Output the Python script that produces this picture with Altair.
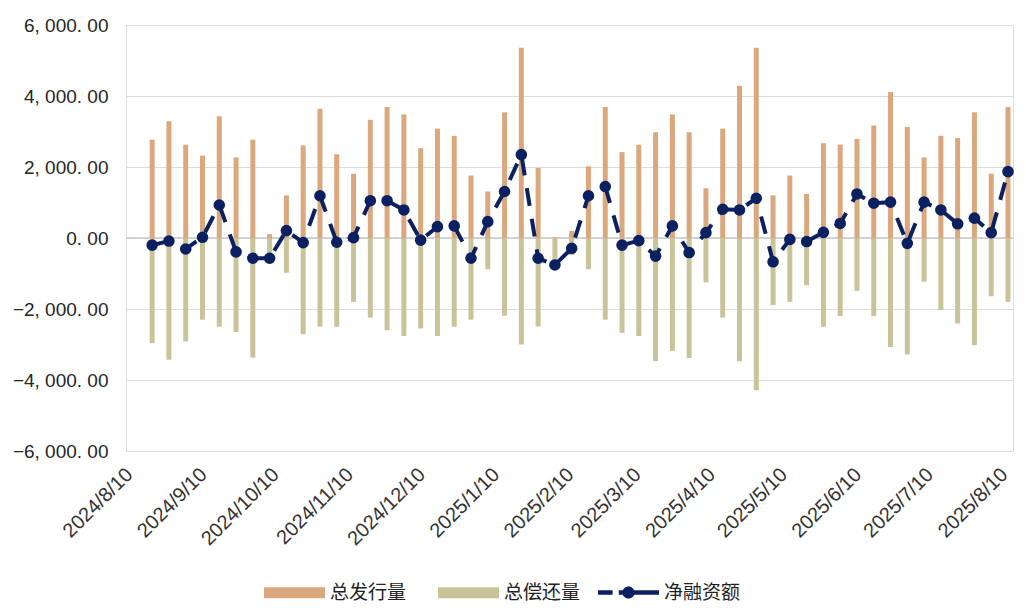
import altair as alt
import pandas as pd

dates = [
    "2024-08-18", "2024-08-25", "2024-09-01", "2024-09-08", "2024-09-15", "2024-09-22",
    "2024-09-29", "2024-10-06", "2024-10-13", "2024-10-20", "2024-10-27", "2024-11-03",
    "2024-11-10", "2024-11-17", "2024-11-24", "2024-12-01", "2024-12-08", "2024-12-15",
    "2024-12-22", "2024-12-29", "2025-01-05", "2025-01-12", "2025-01-19", "2025-01-26",
    "2025-02-02", "2025-02-09", "2025-02-16", "2025-02-23", "2025-03-02", "2025-03-09",
    "2025-03-16", "2025-03-23", "2025-03-30", "2025-04-06", "2025-04-13", "2025-04-20",
    "2025-04-27", "2025-05-04", "2025-05-11", "2025-05-18", "2025-05-25", "2025-06-01",
    "2025-06-08", "2025-06-15", "2025-06-22", "2025-06-29", "2025-07-06", "2025-07-13",
    "2025-07-20", "2025-07-27", "2025-08-03", "2025-08-10",
]

issuance = [2770, 3290, 2630, 2320, 3430, 2270, 2770, 110, 1200, 2610,
            3640, 2360, 1810, 3330, 3690, 3480, 2530, 3080, 2880, 1760,
            1310, 3540, 5360, 1970, 20, 200, 2020, 3690, 2420, 2630,
            2980, 3480, 2980, 1400, 3080, 4290, 5360, 1200, 1760, 1240,
            2670, 2630, 2790, 3170, 4110, 3130, 2270, 2880, 2820, 3540,
            1810, 3690]

repayment = [-2960, -3430, -2910, -2300, -2500, -2650, -3370, -680, -980, -2710,
             -2500, -2500, -1800, -2240, -2600, -2760, -2550, -2760, -2500, -2300,
             -880, -2190, -3000, -2490, -780, -480, -880, -2300, -2670, -2760,
             -3470, -3180, -3380, -1250, -2240, -3470, -4290, -1890, -1800, -1330,
             -2500, -2200, -1490, -2200, -3070, -3280, -1230, -2030, -2410, -3020,
             -1640, -1800]

net = [-200, -85, -310, 20, 930, -390, -570, -570, 210, -130,
       1190, -120, 10, 1050, 1050, 790, -60, 320, 340, -570,
       460, 1310, 2350, -570, -760, -290, 1190, 1450, -200, -75,
       -510, 340, -410, 150, 810, 790, 1120, -670, -40, -100,
       160, 410, 1240, 980, 1010, -150, 1010, 790, 400, 560,
       150, 1870]

bar_names = ["总发行量", "总偿还量"]
bar_colors = ["#DBA77D", "#C9C39A"]
line_name = "净融资额"
line_color = "#0B2060"

y_ticks = [-6000, -4000, -2000, 0, 2000, 4000, 6000]
tick_months = [(2024, 8), (2024, 9), (2024, 10), (2024, 11), (2024, 12), (2025, 1), (2025, 2),
               (2025, 3), (2025, 4), (2025, 5), (2025, 6), (2025, 7), (2025, 8)]

bars = pd.DataFrame({
    "date": dates * 2,
    "value": issuance + repayment,
    "series": [bar_names[0]] * len(dates) + [bar_names[1]] * len(dates),
})
lines = pd.DataFrame({"date": dates, "value": net, "series": [line_name] * len(dates)})
zero = pd.DataFrame({"value": [0]})

x_values = [alt.DateTime(year=y, month=m, date=10, utc=True) for y, m in tick_months]

x_enc = alt.X(
    "date:T",
    scale=alt.Scale(
        type="utc",
        domain=[alt.DateTime(year=2024, month=8, date=9, hours=4, minutes=15, utc=True),
                alt.DateTime(year=2025, month=8, date=10, utc=True)],
    ),
    axis=alt.Axis(
        values=x_values,
        labelExpr="utcFormat(datum.value, '%Y/%-m/%-d')",
        labelAngle=-45, labelAlign="right", labelBaseline="top",
        labelPadding=13, labelOffset=-11,
        labelFont="Liberation Sans", labelFontSize=20,
        labelColor="#333333", domain=False, ticks=False, grid=False, title=None,
        labelOverlap=False, labelBound=False, labelFlush=False,
    ),
)

y_scale = alt.Scale(domain=[-6000, 6000], nice=False, zero=False)
y_axis = alt.Axis(
    values=y_ticks,
    labelExpr="replace(replace(format(datum.value, ',.2f'), ',', ', '), '.', '. ')",
    labelFont="Liberation Sans", labelFontSize=19, labelColor="#262626",
    labelPadding=18, domain=False, ticks=False, grid=True,
    gridColor="#DCDCDC", gridWidth=1.2, title=None,
)

rect_path = "M-1,-0.18L1,-0.18L1,0.18L-1,0.18Z"
line_path = ("M-1,-0.075L-0.52,-0.075L-0.52,0.075L-1,0.075Z "
             "M-0.32,-0.075L1,-0.075L1,0.075L-0.32,0.075Z "
             "M-0.2,0A0.2,0.2 0 1,1 0.2,0A0.2,0.2 0 1,1 -0.2,0Z")

common_legend = dict(
    title=None, orient="none", direction="horizontal",
    legendY=537, symbolSize=3721, symbolStrokeWidth=0,
    labelFont="Noto Sans CJK SC", labelFontSize=19, labelColor="#222222",
    labelOffset=5, columnPadding=31,
)

bar_layer = alt.Chart(bars).mark_bar(size=5).encode(
    x=x_enc,
    y=alt.Y("value:Q", scale=y_scale, axis=y_axis, stack=None),
    color=alt.Color("series:N",
                    scale=alt.Scale(domain=bar_names, range=bar_colors),
                    legend=alt.Legend(legendX=138, symbolType=rect_path, **common_legend)),
)

zero_layer = alt.Chart(zero).mark_rule(color="#C8C8C8", strokeWidth=1.3).encode(
    y=alt.Y("value:Q", scale=y_scale),
)

line_layer = alt.Chart(lines).mark_line(
    color=line_color, strokeWidth=4, strokeDash=[18, 13]
).encode(
    x=alt.X("date:T"),
    y=alt.Y("value:Q", scale=y_scale),
)

point_layer = alt.Chart(lines).mark_circle(size=135, opacity=1).encode(
    x=alt.X("date:T"),
    y=alt.Y("value:Q", scale=y_scale),
    fill=alt.Fill("series:N",
                  scale=alt.Scale(domain=[line_name], range=[line_color]),
                  legend=alt.Legend(legendX=472, symbolType=line_path,
                                    symbolFillColor=line_color, **common_legend)),
)

chart = alt.layer(zero_layer, bar_layer, line_layer, point_layer).properties(
    width=887, height=426,
    autosize=alt.AutoSizeParams(type="none"),
    padding={"left": 118, "top": 17, "right": 5, "bottom": 152},
).configure_view(stroke=None).configure(background="white")

chart.save("out.html", embed_options={"renderer": "svg", "actions": False})
